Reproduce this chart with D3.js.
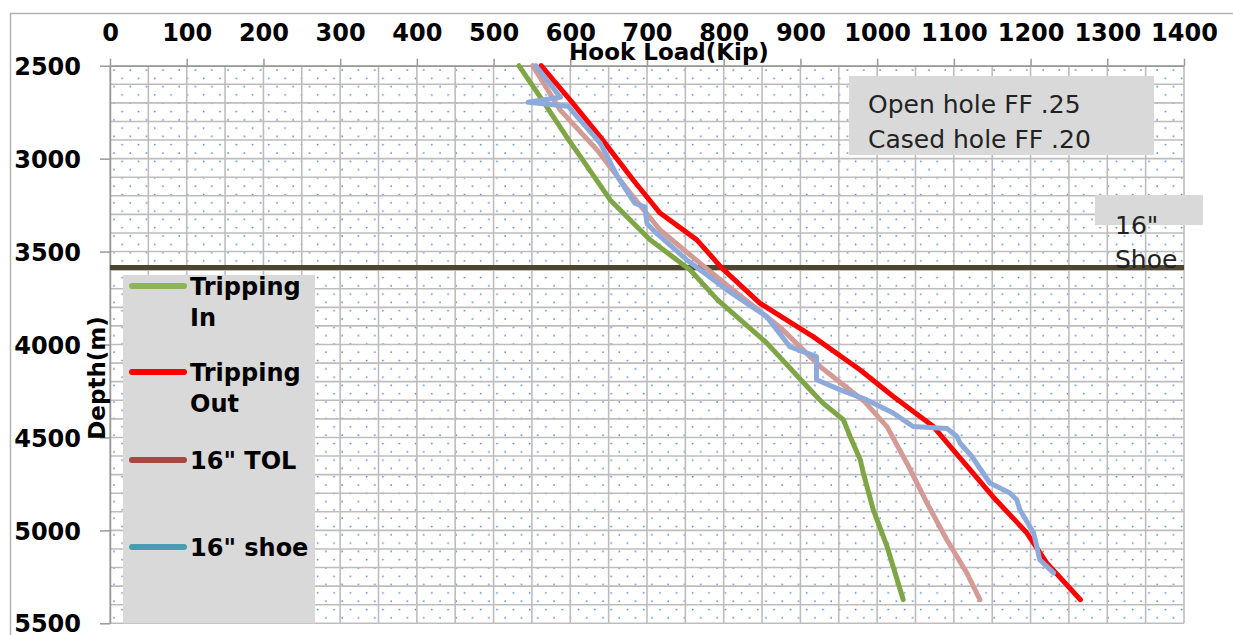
<html>
<head>
<script src="https://d3js.org/d3.v7.min.js"></script>
<style>
  body { margin: 0; background: #fff; }
  text { font-family: "DejaVu Sans", Verdana, sans-serif; }
</style>
</head>
<body>
<script>
// ---- data ----
var kipTicks = d3.range(0, 1401, 100);
var depthTicks = [2500, 3000, 3500, 4000, 4500, 5000, 5500];
var shoeDepth = 3586;

var depthIn = [2500, 2700, 2882, 3000, 3222, 3437, 3598, 3760, 3991, 4227, 4314, 4405, 4497, 4620, 4692, 4890, 5088, 5373];
var kipIn   = [533, 566, 595, 615, 652, 704, 756, 792, 856, 909, 929, 956, 965, 978, 982, 995, 1013, 1034];

var depthOut = [2500, 2685, 2883, 3115, 3293, 3437, 3586, 3777, 3959, 4137, 4280, 4440, 4610, 4819, 5013, 5175, 5373];
var kipOut   = [562, 600, 639, 682, 717, 765, 797, 847, 917, 978, 1021, 1073, 1108, 1151, 1195, 1221, 1265];

var depthTol = [2500, 2739, 2954, 3185, 3384, 3562, 3706, 3905, 4120, 4305, 4443, 4640, 4853, 5052, 5230, 5373];
var kipTol   = [551, 587, 635, 678, 717, 769, 812, 873, 926, 983, 1013, 1039, 1065, 1091, 1117, 1134];

var depthShoe = [2500, 2670, 2697, 2718, 2917, 3100, 3240, 3260, 3350, 3400, 3545, 3706, 3850, 4011, 4065, 4190, 4244, 4297, 4369, 4441, 4452, 4495, 4530, 4600, 4745, 4799, 4835, 4889, 5014, 5158, 5229];
var kipShoe   = [555, 587, 545, 597, 639, 662, 684, 697, 700, 712, 752, 804, 856, 886, 921, 921, 952, 986, 1021, 1047, 1091, 1104, 1108, 1123, 1147, 1173, 1182, 1186, 1204, 1212, 1230];

var seriesNames = ['Tripping\nIn', 'Tripping\nOut', '16" TOL', '16" shoe'];
var lineColors = ['#7fa645', '#ff0000', '#d49a96', '#8eaadb'];
var legendColors = ['#8db35a', '#ff0000', '#a94743', '#4b9bb0'];

var series = [
  {depth: depthIn, kip: kipIn},
  {depth: depthOut, kip: kipOut},
  {depth: depthTol, kip: kipTol},
  {depth: depthShoe, kip: kipShoe}
];

// ---- layout ----
var W = 1233, H = 635;
var x = d3.scaleLinear().domain([0, 1400]).range([110, 1184]);
var y = d3.scaleLinear().domain([2500, 5500]).range([65.7, 623.3]);

var svg = d3.select('body').append('svg')
  .attr('width', W).attr('height', H);

svg.append('rect').attr('width', W).attr('height', H).attr('fill', '#fff');
svg.append('rect')
  .attr('x', 10.5).attr('y', 13.5).attr('width', 1400).attr('height', 700)
  .attr('fill', 'none').attr('stroke', '#b4b4b4').attr('stroke-width', 1.5);

// dotted fill of the plot area
var defs = svg.append('defs');
var pat = defs.append('pattern').attr('id', 'dots')
  .attr('patternUnits', 'userSpaceOnUse')
  .attr('x', 110).attr('y', 66)
  .attr('width', 16.3).attr('height', 16.6);
pat.append('circle').attr('cx', 4).attr('cy', 4).attr('r', 0.9).attr('fill', '#4f81d0');
pat.append('circle').attr('cx', 12.15).attr('cy', 12.3).attr('r', 0.9).attr('fill', '#4f81d0');

svg.append('rect')
  .attr('x', x(0)).attr('y', y(2500))
  .attr('width', x(1400) - x(0)).attr('height', y(5500) - y(2500))
  .attr('fill', 'url(#dots)');

// grid
var grid = svg.append('g').attr('stroke', '#bdbdbd').attr('stroke-width', 1.6);
grid.selectAll('.vg').data(d3.range(0, 1401, 50)).enter().append('line')
  .attr('x1', d => x(d)).attr('x2', d => x(d))
  .attr('y1', y(2500)).attr('y2', y(5500));
grid.selectAll('.hg').data(d3.range(2500, 5501, 100)).enter().append('line')
  .attr('x1', x(0)).attr('x2', x(1400))
  .attr('y1', d => y(d)).attr('y2', d => y(d));

// axes
var fmt = d3.format('d');
var xAxis = svg.append('g')
  .attr('transform', 'translate(0,' + y(2500) + ')')
  .call(d3.axisTop(x).tickValues(kipTicks).tickFormat(fmt).tickSize(7).tickPadding(18).tickSizeOuter(0));
var yAxis = svg.append('g')
  .attr('transform', 'translate(' + x(0) + ',0)')
  .call(d3.axisLeft(y).tickValues(depthTicks).tickFormat(fmt).tickSize(10).tickPadding(19).tickSizeOuter(0));

[xAxis, yAxis].forEach(function (a) {
  a.select('.domain').attr('stroke', '#999').attr('stroke-width', 1.5);
  a.selectAll('.tick line').attr('stroke', '#999').attr('stroke-width', 1.5);
  a.selectAll('.tick text')
    .attr('fill', '#000')
    .style('font-family', '"DejaVu Sans", Verdana, sans-serif')
    .style('font-size', '24px').style('font-weight', 'bold');
});
yAxis.selectAll('.tick text').attr('dy', '0.36em');

// axis titles
svg.append('text')
  .attr('x', 669).attr('y', 60)
  .attr('text-anchor', 'middle')
  .style('font-size', '23px').style('font-weight', 'bold')
  .text('Hook Load(Kip)');
svg.append('text')
  .attr('transform', 'translate(105,378) rotate(-90)')
  .attr('text-anchor', 'middle')
  .style('font-size', '23px').style('font-weight', 'bold')
  .text('Depth(m)');

// shoe line
svg.append('line')
  .attr('x1', x(0)).attr('x2', x(1400))
  .attr('y1', y(shoeDepth)).attr('y2', y(shoeDepth))
  .attr('stroke', '#4d4530').attr('stroke-width', 5);

// series lines
var line = d3.line()
  .x(function (d) { return x(d[1]); })
  .y(function (d) { return y(d[0]); });

series.forEach(function (s, i) {
  var pts = s.depth.map(function (d, j) { return [d, s.kip[j]]; });
  svg.append('path')
    .datum(pts)
    .attr('d', line)
    .attr('fill', 'none')
    .attr('stroke', lineColors[i])
    .attr('stroke-width', 5)
    .attr('stroke-linejoin', 'round')
    .attr('stroke-linecap', 'round');
});

// legend
svg.append('rect')
  .attr('x', 123).attr('y', 275).attr('width', 192).attr('height', y(5500) - 275)
  .attr('fill', '#d9d9d9');

var legendY = [286, 372, 460, 547];
seriesNames.forEach(function (name, i) {
  svg.append('line')
    .attr('x1', 132).attr('x2', 184)
    .attr('y1', legendY[i]).attr('y2', legendY[i])
    .attr('stroke', legendColors[i]).attr('stroke-width', 6)
    .attr('stroke-linecap', 'round');
  var t = svg.append('text')
    .attr('x', 190).attr('y', legendY[i] + 9)
    .style('font-size', '24px').style('font-weight', 'bold');
  name.split('\n').forEach(function (part, k) {
    t.append('tspan').attr('x', 190).attr('dy', k === 0 ? 0 : 31).text(part);
  });
});

// notes
svg.append('rect')
  .attr('x', 849).attr('y', 76).attr('width', 305).attr('height', 79)
  .attr('fill', '#d9d9d9');
svg.append('text').attr('x', 868).attr('y', 113)
  .style('font-size', '25px').attr('fill', '#222')
  .text('Open hole FF .25');
svg.append('text').attr('x', 868).attr('y', 148)
  .style('font-size', '25px').attr('fill', '#222')
  .text('Cased hole FF .20');

svg.append('rect')
  .attr('x', 1095).attr('y', 195).attr('width', 108).attr('height', 30)
  .attr('fill', '#d9d9d9');
svg.append('text').attr('x', 1115).attr('y', 234)
  .style('font-size', '25px').attr('fill', '#222')
  .text('16"');
svg.append('text').attr('x', 1115).attr('y', 268)
  .style('font-size', '25px').attr('fill', '#222')
  .text('Shoe');
</script>
</body>
</html>
